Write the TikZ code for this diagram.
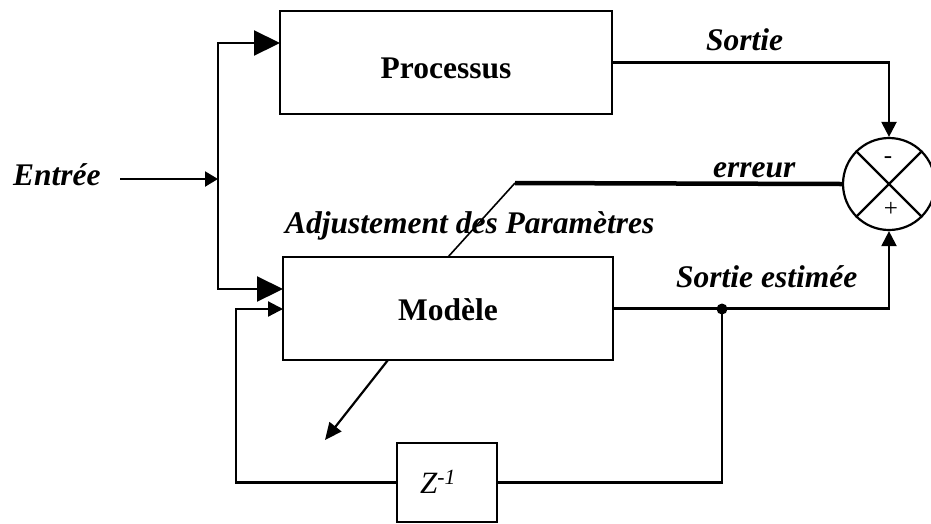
\documentclass[tikz,border=0pt]{standalone}
\usepackage{fontspec}
\setmainfont{Liberation Serif}
\usetikzlibrary{arrows.meta}
\begin{document}
\begin{tikzpicture}[x=1pt,y=-1pt,
  wire/.style={line width=2.2pt},
  bigarrow/.style={line width=2.2pt,-{Triangle[length=26pt,width=25pt]}},
  smallarrow/.style={line width=2.2pt,-{Triangle[length=15pt,width=15pt]}},
  block/.style={draw,line width=2.2pt,inner sep=0pt},
  lbl/.style={font=\fontsize{31.5}{36}\selectfont\bfseries\itshape,inner sep=0pt,anchor=base west},
  btitle/.style={font=\fontsize{31.5}{36}\selectfont\bfseries,inner sep=0pt,anchor=base},
  sign/.style={font=\fontsize{25}{28}\selectfont,inner sep=0pt}
]
\useasboundingbox (0,0) rectangle (931,523);
% blocks
\node[block,minimum width=332pt,minimum height=103pt] (proc) at (446,62.5) {};
\node[block,minimum width=330pt,minimum height=103pt] (mod) at (448,308.5) {};
\node[block,minimum width=100pt,minimum height=79pt] (zb) at (447,482.5) {};
\node[draw,circle,line width=2.2pt,minimum size=92pt,inner sep=0pt] (sum) at (889,184) {};
\draw[wire] (sum.north west) -- (sum.south east);
\draw[wire] (sum.north east) -- (sum.south west);
\node[sign] (minus) at (888,160) {-};
\node[sign] (plus) at (891,209) {+};
% texts
\node[btitle] (procT) at (446,78) {Processus};
\node[btitle] (modT) at (448,320) {Modèle};
\node[inner sep=0pt,font=\fontsize{31}{34}\selectfont\itshape] (zT) at (438,482) {Z\textsuperscript{-1}};
\node[lbl] (entT) at (13,185) {Entrée};
\node[lbl] (sortT) at (706,50) {Sortie};
\node[lbl] (errT) at (713,177) {erreur};
\node[lbl] (estT) at (676,287) {Sortie estimée};
\node[lbl] (adjT) at (285,233) {Adjustement des Paramètres};
% coordinates
\coordinate (inS) at (120,179);
\coordinate (jn) at (218,179);
\coordinate (procIn) at (280,43);
\coordinate (modIn) at (283,289);
\coordinate (dot) at (722,309);
\coordinate (fbC) at (236,309);
\coordinate (fbIn) at (283,309);
\coordinate (errS) at (515,183);
\coordinate (adjE) at (448,257);
\coordinate (mB) at (388,360);
\coordinate (mArr) at (325,440);
% connectors
\draw[line width=2.2pt,-{Triangle[length=13pt,width=15pt]}] (inS) -- (jn);
\draw[bigarrow] (jn) |- (procIn);
\draw[bigarrow] (jn) |- (modIn);
\draw[smallarrow] (proc.east) -| (sum.north);
\draw[smallarrow] (mod.east) -| (sum.south);
\fill (dot) circle (5.5pt);
\draw[wire] (dot) |- (zb.east);
\draw[smallarrow] (zb.west) -| (fbC) -- (fbIn);
\draw[line width=4.5pt] (sum.west) -- (errS);
\draw[line width=1.6pt] (errS) -- (adjE);
\draw[line width=2.2pt,-{Triangle[length=17pt,width=15pt]}] (mB) -- (mArr);
\end{tikzpicture}
\end{document}
